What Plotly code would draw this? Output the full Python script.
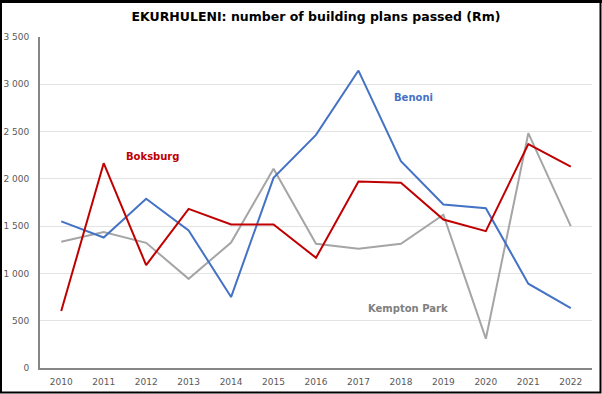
import plotly.graph_objects as go

years = ["2010", "2011", "2012", "2013", "2014", "2015", "2016",
         "2017", "2018", "2019", "2020", "2021", "2022"]
benoni = [1550, 1380, 1790, 1455, 750, 2010, 2465, 3145, 2187, 1729, 1690, 891, 634]
boksburg = [602, 2166, 1088, 1683, 1517, 1517, 1165, 1971, 1958, 1570, 1447, 2367, 2130]
kempton = [1334, 1437, 1324, 943, 1327, 2106, 1313, 1260, 1313, 1620, 310, 2483, 1500]
y_ticks = [0, 500, 1000, 1500, 2000, 2500, 3000, 3500]

W, H = 602, 394
ML, MR, MT, MB = 40, 10, 37, 26
pw, ph = W - ML - MR, H - MT - MB

def px(x):
    return (x - ML) / pw

def py(y):
    return (H - MB - y) / ph

fig = go.Figure()
fig.add_trace(go.Scatter(x=years, y=kempton, mode="lines", name="Kempton Park",
                         line=dict(color="#A5A5A5", width=2)))
fig.add_trace(go.Scatter(x=years, y=benoni, mode="lines", name="Benoni",
                         line=dict(color="#4472C4", width=2)))
fig.add_trace(go.Scatter(x=years, y=boksburg, mode="lines", name="Boksburg",
                         line=dict(color="#C00000", width=2)))

font = "DejaVu Sans"
fig.update_layout(
    width=W, height=H,
    margin=dict(l=ML, r=MR, t=MT, b=MB, autoexpand=False),
    paper_bgcolor="white", plot_bgcolor="white",
    showlegend=False,
    separators=". ",
    title=dict(text="<b>EKURHULENI: number of building plans passed (Rm)</b>",
               x=0.5, xref="paper", xanchor="center", y=1 - 17 / H, yanchor="middle",
               font=dict(family=font, size=12.5, color="#000000")),
    font=dict(family=font, size=9, color="#595959"),
)
fig.update_xaxes(type="category", range=[-0.5, len(years) - 0.5], showgrid=False,
                 showline=True, linecolor="#868686", automargin=False,
                 linewidth=2, ticks="", tickfont=dict(size=9, color="#595959"), ticklabelstandoff=4)
fig.update_yaxes(range=[0, 3500], tickvals=y_ticks, tickformat=",d", showgrid=True,
                 gridcolor="#E3E3E3", gridwidth=1, showline=True, linecolor="#868686",
                 linewidth=2, ticks="", zeroline=False, ticklabelstandoff=7, automargin=False,
                 tickfont=dict(size=9, color="#595959"))

for label, cx, cy, col in [("Benoni", 413, 97, "#4472C4"),
                           ("Boksburg", 152, 156, "#C00000"),
                           ("Kempton Park", 408, 308, "#7F7F7F")]:
    fig.add_annotation(text="<b>%s</b>" % label, x=px(cx), y=py(cy), xref="paper", yref="paper",
                       xanchor="center", yanchor="middle", showarrow=False,
                       font=dict(family=font, size=10, color=col))

fig.add_shape(type="rect", xref="paper", yref="paper",
              x0=px(1), x1=px(600.5), y0=py(392.5), y1=py(2),
              line=dict(color="#000000", width=2), fillcolor="rgba(0,0,0,0)")
fig.add_shape(type="line", xref="paper", yref="paper",
              x0=px(0), x1=px(602), y0=py(1.5), y1=py(1.5),
              line=dict(color="#000000", width=3))

fig.write_html("out.html", config={"displayModeBar": False},
               post_script="document.body.style.margin='0';")
